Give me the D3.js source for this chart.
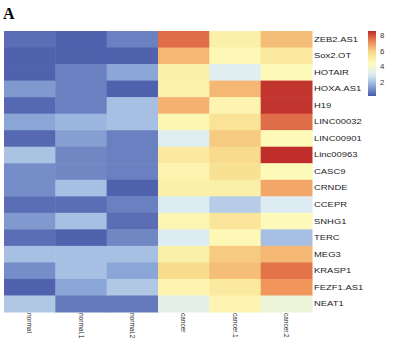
<!DOCTYPE html>
<html><head><meta charset="utf-8">
<script src="https://cdn.jsdelivr.net/npm/d3@7"></script>
<style>html,body{margin:0;padding:0;background:#fff;}svg{display:block;}</style>
</head><body>
<svg id="chart" width="393" height="343"></svg>
<script>
const genes = ["ZEB2.AS1","Sox2.OT","HOTAIR","HOXA.AS1","H19","LINC00032","LINC00901","Linc00963","CASC9","CRNDE","CCEPR","SNHG1","TERC","MEG3","KRASP1","FEZF1.AS1","NEAT1"];
const samples = ["normal","normal.1","normal.2","cancer","cancer.1","cancer.2"];
const normal  = [0.6,0.4,0.4,1.3,0.5,1.5,0.5,2.1,1.1,1.1,0.6,1.3,0.6,2.0,1.1,0.4,2.2];
const normal1 = [0.4,0.4,0.9,0.9,0.9,1.8,1.4,1.0,1.0,2.0,0.6,2.0,0.4,2.0,2.0,1.5,0.8];
const normal2 = [0.9,0.4,1.5,0.4,2.0,2.0,0.9,0.9,0.9,0.4,0.9,0.6,1.0,2.0,1.5,2.2,0.8];
const cancer  = [7.7,6.5,5.0,4.9,6.6,4.7,3.1,5.3,4.8,5.0,3.0,4.7,3.0,5.0,5.9,4.8,3.3];
const cancer1 = [5.0,4.6,3.1,6.5,4.8,5.6,6.2,5.9,5.7,5.0,2.3,5.5,4.6,6.2,6.4,5.3,4.8];
const cancer2 = [6.4,5.3,4.5,8.5,8.5,7.7,4.5,8.6,4.5,6.8,3.0,4.5,2.0,6.5,7.6,7.1,3.7];
const series = [normal, normal1, normal2, cancer, cancer1, cancer2];
const legendTicks = [2,4,6,8];
const palette = ["#4858a8","#92afdc","#e0eef3","#fdfbbb","#f9de8f","#ef8c55","#bd2a29"];
const vmin = 0.25, vmax = 8.65;

const svg = d3.select("#chart");
const cells = [];
series.forEach((vals, j) => vals.forEach((v, i) => cells.push({gene: genes[i], sample: samples[j], v})));

const x = d3.scaleBand().domain(samples).range([4, 312]);
const y = d3.scaleBand().domain(genes).range([31, 312]);
const color = d3.scaleLinear()
  .domain(d3.range(palette.length).map(k => vmin + k*(vmax-vmin)/(palette.length-1)))
  .range(palette).interpolate(d3.interpolateRgb).clamp(true);

svg.append("g").selectAll("rect").data(cells).join("rect")
  .attr("x", d => x(d.sample)).attr("y", d => y(d.gene))
  .attr("width", x.bandwidth()+0.5).attr("height", y.bandwidth()+0.5)
  .attr("fill", d => color(d.v));

// row labels
svg.append("g").selectAll("text").data(genes).join("text")
  .attr("transform", d => `translate(314,${y(d)+y.bandwidth()/2}) scale(1.35,1)`)
  .attr("dy","0.35em")
  .attr("font-family","Liberation Sans, Arial, sans-serif")
  .attr("font-size", 7).attr("fill","#222")
  .text(d => d);

// column labels
svg.append("g").selectAll("text").data(samples).join("text")
  .attr("transform", d => `translate(${x(d)+x.bandwidth()/2},313) rotate(90)`)
  .attr("dy","0.35em")
  .attr("font-family","Liberation Sans, Arial, sans-serif")
  .attr("font-size", 6.5).attr("fill","#222")
  .text(d => d);

// legend
const ly = d3.scaleLinear().domain([vmin, vmax]).range([96, 31]);
const defs = svg.append("defs");
const grad = defs.append("linearGradient").attr("id","lg").attr("x1",0).attr("y1",1).attr("x2",0).attr("y2",0);
d3.range(0, 1.0001, 0.05).forEach(t => {
  grad.append("stop").attr("offset", t).attr("stop-color", color(vmin + t*(vmax-vmin)));
});
svg.append("rect").attr("x",368).attr("y",ly(vmax)).attr("width",8).attr("height",ly(vmin)-ly(vmax)).attr("fill","url(#lg)");
svg.append("g").selectAll("text").data(legendTicks).join("text")
  .attr("transform", d => `translate(380,${ly(d)}) scale(1.2,1)`)
  .attr("dy","0.35em")
  .attr("font-family","Liberation Sans, Arial, sans-serif")
  .attr("font-size", 6.5).attr("fill","#333")
  .text(d => d);

// panel letter
svg.append("text").attr("x",3).attr("y",19)
  .attr("font-family","Liberation Serif, Times New Roman, serif")
  .attr("font-weight","bold").attr("font-size",16).attr("fill","#000")
  .text("A");
</script>
</body></html>
